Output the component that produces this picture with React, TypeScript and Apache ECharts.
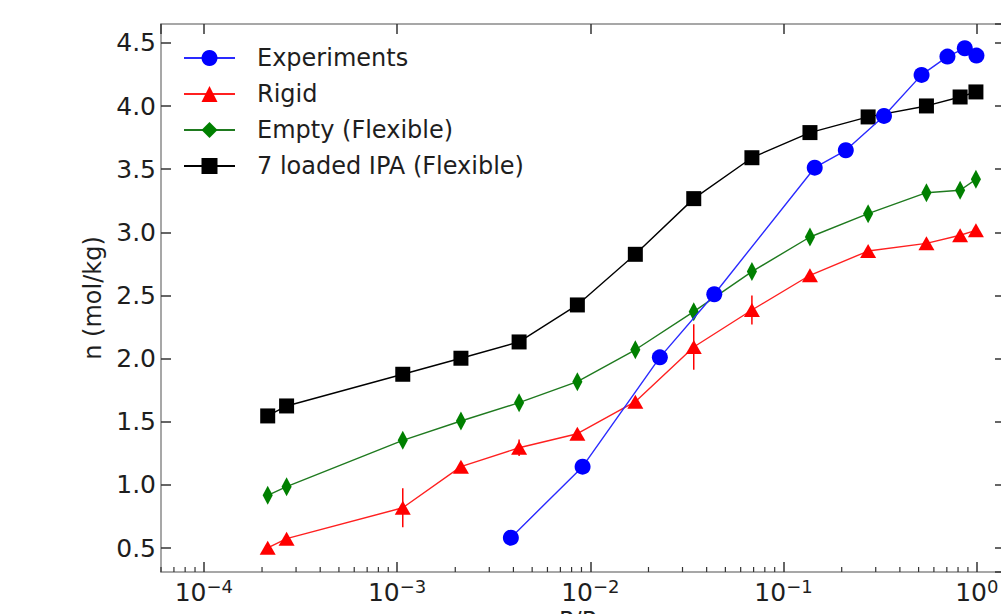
import React, { useEffect, useRef } from "react";
import * as echarts from "echarts";

// Relative pressures (P/P0) of the simulated points
const simPressure = [2.14e-4, 2.68e-4, 1.07e-3, 2.14e-3, 4.28e-3, 8.57e-3, 1.71e-2, 3.43e-2, 6.86e-2, 0.137, 0.274, 0.549, 0.82, 0.99];
// Uptake n (mol/kg)
const loadedIPA = [1.546, 1.625, 1.876, 2.003, 2.132, 2.425, 2.826, 3.267, 3.591, 3.79, 3.914, 4.001, 4.072, 4.112];
const emptyFlexible = [0.917, 0.986, 1.353, 1.506, 1.651, 1.817, 2.07, 2.372, 2.689, 2.963, 3.148, 3.314, 3.333, 3.42];
const rigid = [0.502, 0.574, 0.819, 1.144, 1.294, 1.405, 1.659, 2.092, 2.385, 2.66, 2.852, 2.913, 2.977, 3.016];
const rigidErr = [0, 0, 0.155, 0, 0.065, 0, 0, 0.18, 0.115, 0, 0, 0, 0, 0];

const expPressure = [3.88e-3, 9.12e-3, 2.29e-2, 4.38e-2, 0.145, 0.21, 0.331, 0.518, 0.705, 0.867, 0.996];
const expUptake = [0.582, 1.144, 2.01, 2.51, 3.512, 3.65, 3.922, 4.247, 4.392, 4.458, 4.4];

const seriesNames = ["Experiments", "Rigid", "Empty (Flexible)", "7 loaded IPA (Flexible)"];

// axis ranges and minor tick positions (log axis)
const X_MIN = 6e-5;
const X_MAX = 1.4;
const Y_MIN = 0.31;
const Y_MAX = 4.65;
const minorMultipliers = [2, 3, 4, 5, 6, 7, 8, 9];
const minorDecades = [1e-5, 1e-4, 1e-3, 1e-2, 1e-1];

const FONT = "DejaVu Sans";
const TXT = "#1e1e1e";
const SPINE = "#8a8a8a";
const TICK = "#333333";

export default function App() {
  const ref = useRef<HTMLDivElement>(null);

  useEffect(() => {
    if (!ref.current) return;
    const chart = echarts.init(ref.current, null, { renderer: "svg" });

    const minorTicks: number[][] = [];
    minorDecades.forEach((d) =>
      minorMultipliers.forEach((m) => {
        const v = m * d;
        if (v > X_MIN && v < X_MAX) minorTicks.push([v, Y_MIN]);
      })
    );

    const supMap = (e: number) => (e < 0 ? "\u2212" + String(-e) : String(e));

    const xLabel = {
      show: true,
      margin: 5,
      showMinLabel: false,
      showMaxLabel: false,
      formatter: (v: number) => {
        const e = Math.round(Math.log10(v));
        if (Math.abs(Math.log10(v) - e) > 1e-6) return "";
        return `{b|10}{s|${supMap(e)}}`;
      },
      rich: {
        b: { fontSize: 25, fontFamily: FONT, color: TXT, lineHeight: 30 },
        s: { fontSize: 18, fontFamily: FONT, color: TXT, lineHeight: 17, verticalAlign: "top" },
      },
    };

    const axisLine = { show: true, onZero: false, lineStyle: { color: SPINE, width: 1.5 } };
    const axisTick = { show: true, inside: true, length: 10, lineStyle: { color: TICK, width: 1.5 } };

    const option: any = {
      animation: false,
      backgroundColor: "#ffffff",
      grid: { left: 161, right: -4, top: 24, bottom: 42, containLabel: false, outerBoundsMode: "none" },
      legend: {
        show: true,
        orient: "vertical",
        left: 178,
        top: 41,
        itemWidth: 51,
        itemHeight: 20,
        itemGap: 12,
        symbolKeepAspect: true,
        data: seriesNames,
        textStyle: { fontSize: 24, fontFamily: FONT, color: TXT, padding: [0, 0, 0, 17] },
      },
      xAxis: [
        {
          type: "log",
          logBase: 10,
          min: X_MIN,
          max: X_MAX,
          position: "bottom",
          axisLine,
          axisTick,
          splitLine: { show: false },
          axisLabel: xLabel,
          name: "{a|P/P}{b|0}",
          nameLocation: "middle",
          nameGap: 31,
          nameTextStyle: {
            rich: {
              a: { fontSize: 24, fontFamily: FONT, color: TXT, lineHeight: 28 },
              b: { fontSize: 17, fontFamily: FONT, color: TXT, lineHeight: 17, verticalAlign: "bottom" },
            },
          },
        },
        {
          type: "log",
          logBase: 10,
          min: X_MIN,
          max: X_MAX,
          position: "top",
          axisLine,
          axisTick,
          splitLine: { show: false },
          axisLabel: { show: false },
        },
      ],
      yAxis: [
        {
          type: "value",
          min: Y_MIN,
          max: Y_MAX,
          splitNumber: 9,
          position: "left",
          axisLine,
          axisTick,
          splitLine: { show: false },
          axisLabel: {
            margin: 5,
            showMinLabel: false,
            showMaxLabel: false,
            fontSize: 25,
            fontFamily: FONT,
            color: TXT,
            formatter: (v: number) => v.toFixed(1),
          },
          name: "n (mol/kg)",
          nameLocation: "middle",
          nameGap: 52,
          nameTextStyle: { fontSize: 24, fontFamily: FONT, color: TXT },
        },
        {
          type: "value",
          min: Y_MIN,
          max: Y_MAX,
          splitNumber: 9,
          position: "right",
          axisLine,
          axisTick,
          splitLine: { show: false },
          axisLabel: { show: false },
        },
      ],
      series: [
        {
          type: "custom",
          silent: true,
          xAxisIndex: 0,
          yAxisIndex: 0,
          z: 1,
          data: minorTicks,
          renderItem: (params: any, api: any) => {
            const p = api.coord([api.value(0), api.value(1)]);
            return {
              type: "line",
              shape: { x1: p[0], y1: p[1], x2: p[0], y2: p[1] - 5 },
              style: { stroke: TICK, lineWidth: 1.2 },
            };
          },
        },
        {
          name: seriesNames[3],
          type: "line",
          data: simPressure.map((p, i) => [p, loadedIPA[i]]),
          symbol: "rect",
          symbolSize: 15,
          lineStyle: { color: "#000000", width: 1.4 },
          itemStyle: { color: "#000000" },
          z: 2,
        },
        {
          name: seriesNames[2],
          type: "line",
          data: simPressure.map((p, i) => [p, emptyFlexible[i]]),
          symbol: "path://M6.5 0 L13 9 L6.5 18 L0 9 Z",
          symbolSize: [14, 19],
          symbolKeepAspect: true,
          lineStyle: { color: "#1f7a1f", width: 1.4 },
          itemStyle: { color: "#008000" },
          z: 3,
        },
        {
          type: "custom",
          silent: true,
          z: 4,
          data: simPressure
            .map((p, i) => [p, rigid[i], rigidErr[i]])
            .filter((d) => d[2] > 0),
          renderItem: (params: any, api: any) => {
            const x = api.value(0);
            const y = api.value(1);
            const e = api.value(2);
            const a = api.coord([x, y + e]);
            const b = api.coord([x, y - e]);
            return {
              type: "line",
              shape: { x1: a[0], y1: a[1], x2: b[0], y2: b[1] },
              style: { stroke: "#ff0000", lineWidth: 1.5 },
            };
          },
        },
        {
          name: seriesNames[1],
          type: "line",
          data: simPressure.map((p, i) => [p, rigid[i]]),
          symbol: "triangle",
          symbolSize: [16, 14],
          lineStyle: { color: "#ff2020", width: 1.4 },
          itemStyle: { color: "#ff0000" },
          z: 4,
        },
        {
          name: seriesNames[0],
          type: "line",
          data: expPressure.map((p, i) => [p, expUptake[i]]),
          symbol: "circle",
          symbolSize: 16,
          lineStyle: { color: "#2a2aff", width: 1.4 },
          itemStyle: { color: "#0000ff" },
          z: 5,
        },
      ],
    };

    chart.setOption(option);
    return () => chart.dispose();
  }, []);

  return (
    <div
      ref={ref}
      style={{ position: "fixed", left: 0, top: 0, width: 1001, height: 614, background: "#fff" }}
    />
  );
}
